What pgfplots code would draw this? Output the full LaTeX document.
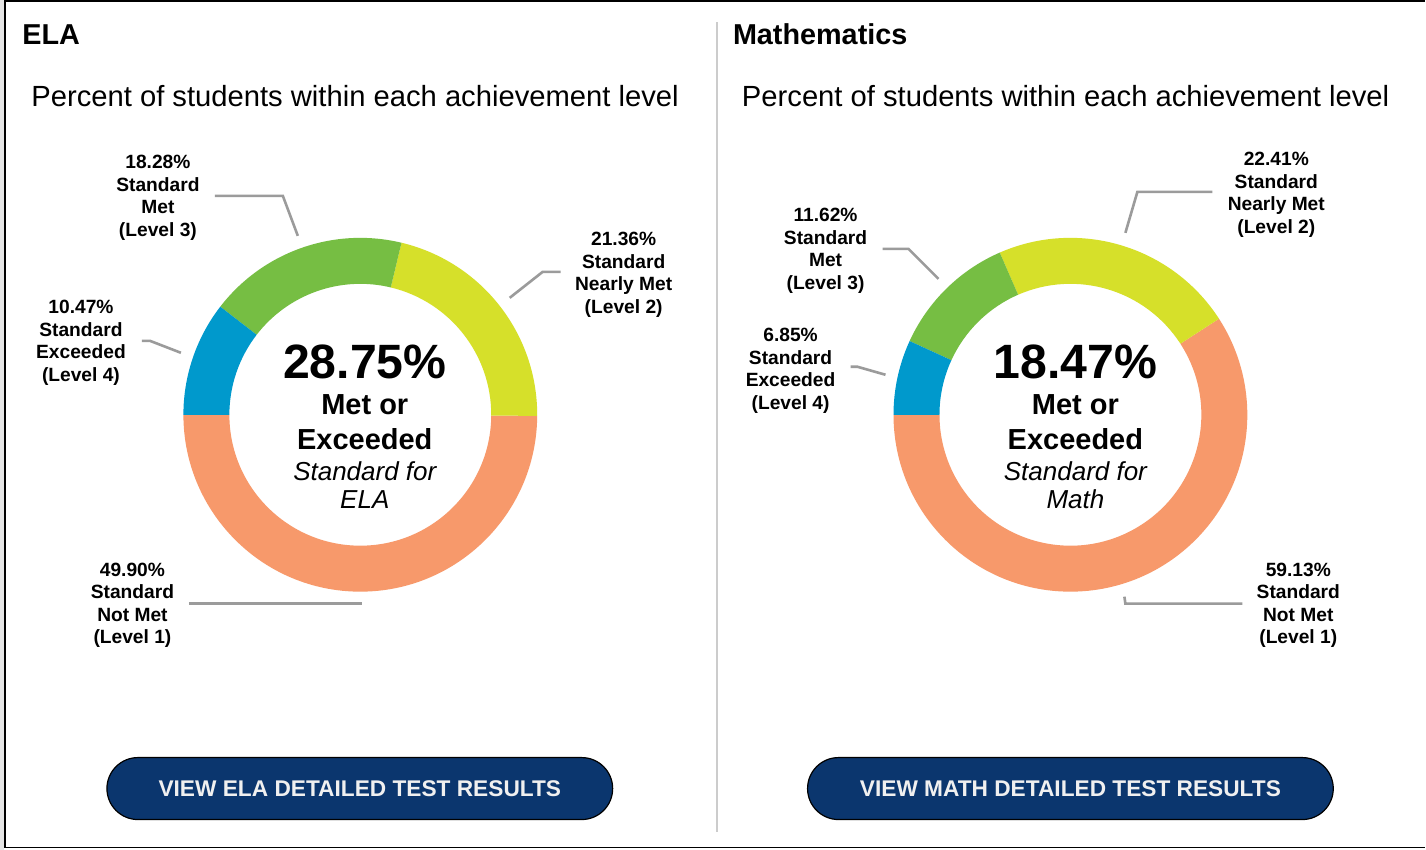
\documentclass[border=0pt]{standalone}
\usepackage{fontspec}
\setmainfont{Liberation Sans}
\usepackage{pgfplots}
\pgfplotsset{compat=1.18}
\usetikzlibrary{calc}
\definecolor{lvlone}{HTML}{F7996B}
\definecolor{lvltwo}{HTML}{D6E02A}
\definecolor{lvlthree}{HTML}{76BE43}
\definecolor{lvlfour}{HTML}{0099CC}
\definecolor{navy}{HTML}{0B366E}
\definecolor{leader}{HTML}{9B9B9B}
\definecolor{sep}{HTML}{CCCCCC}

% one ring segment: centre x, centre y, cumulative percent before, percent, colour
\newcommand{\ringseg}[5]{%
  \fill[#5] ($(axis cs:#1,#2)+({180+3.6*#3}:88.5pt)$)
    arc[start angle={180+3.6*#3}, end angle={180+3.6*(#3+#4)}, radius=88.5pt]
    -- ($(axis cs:#1,#2)+({180+3.6*(#3+#4)}:65.5pt)$)
    arc[start angle={180+3.6*(#3+#4)}, end angle={180+3.6*#3}, radius=65.5pt]
    -- cycle;}

\tikzset{lbl/.style={anchor=north, align=center, inner sep=0pt,
    font=\fontsize{9.6}{11.25}\selectfont\bfseries},
  lead/.style={leader, line width=1.3pt}}

\begin{document}
\begin{tikzpicture}
\begin{axis}[
  x=0.5pt, y=0.5pt, xmin=0, xmax=1426, ymin=0, ymax=850,
  hide axis, scale only axis, clip=false,
]
\fill[white] (axis cs:0,0) rectangle (axis cs:1426,850);
\fill[black!10] (axis cs:0,0) rectangle (axis cs:4,850);
\draw[black, line width=0.8pt] (axis cs:5,2) -- (axis cs:5,849) -- (axis cs:1426,849);
\draw[black, line width=0.8pt] (axis cs:5,2) -- (axis cs:1426,2);
\draw[sep, line width=1pt] (axis cs:717,18) -- (axis cs:717,828);

% titles
\node[anchor=base west, inner sep=0pt, font=\fontsize{14.4}{17}\selectfont\bfseries] at (axis cs:22,805) {ELA};
\node[anchor=base west, inner sep=0pt, font=\fontsize{14.4}{17}\selectfont\bfseries] at (axis cs:733,805) {Mathematics};
\node[anchor=base west, inner sep=0pt, font=\fontsize{14.6}{17}\selectfont] at (axis cs:31,743) {Percent of students within each achievement level};
\node[anchor=base west, inner sep=0pt, font=\fontsize{14.6}{17}\selectfont] at (axis cs:742,743) {Percent of students within each achievement level};

% ELA ring: 49.90 / 21.36 / 18.28 / 10.47
\ringseg{360.5}{435}{0}{49.90}{lvlone}
\ringseg{360.5}{435}{49.90}{21.36}{lvltwo}
\ringseg{360.5}{435}{71.26}{18.28}{lvlthree}
\ringseg{360.5}{435}{89.54}{10.47}{lvlfour}

% Math ring: 59.13 / 22.41 / 11.62 / 6.85
\ringseg{1071}{435}{0}{59.13}{lvlone}
\ringseg{1071}{435}{59.13}{22.41}{lvltwo}
\ringseg{1071}{435}{81.54}{11.62}{lvlthree}
\ringseg{1071}{435}{93.16}{6.85}{lvlfour}

% centre texts
\node[anchor=base, inner sep=0pt, font=\fontsize{24.1}{28}\selectfont\bfseries] at (axis cs:365,471) {28.75\%};
\node[anchor=base, inner sep=0pt, font=\fontsize{14.5}{17}\selectfont\bfseries] at (axis cs:365,435) {Met or};
\node[anchor=base, inner sep=0pt, font=\fontsize{14.5}{17}\selectfont\bfseries] at (axis cs:365,400) {Exceeded};
\node[anchor=base, inner sep=0pt, font=\fontsize{13}{15}\selectfont\itshape] at (axis cs:365,369) {Standard for};
\node[anchor=base, inner sep=0pt, font=\fontsize{13}{15}\selectfont\itshape] at (axis cs:365,341) {ELA};
\node[anchor=base, inner sep=0pt, font=\fontsize{24.1}{28}\selectfont\bfseries] at (axis cs:1076,471) {18.47\%};
\node[anchor=base, inner sep=0pt, font=\fontsize{14.5}{17}\selectfont\bfseries] at (axis cs:1076,435) {Met or};
\node[anchor=base, inner sep=0pt, font=\fontsize{14.5}{17}\selectfont\bfseries] at (axis cs:1076,400) {Exceeded};
\node[anchor=base, inner sep=0pt, font=\fontsize{13}{15}\selectfont\itshape] at (axis cs:1076,369) {Standard for};
\node[anchor=base, inner sep=0pt, font=\fontsize{13}{15}\selectfont\itshape] at (axis cs:1076,341) {Math};

% leader lines
\draw[lead] (axis cs:215,654) -- (axis cs:283,654) -- (axis cs:298,614);
\draw[lead] (axis cs:510,552) -- (axis cs:543,578) -- (axis cs:561,578);
\draw[lead] (axis cs:142,509) -- (axis cs:150,509) -- (axis cs:181,497);
\draw[lead] (axis cs:189,246) -- (axis cs:362,246);
\draw[lead] (axis cs:883,601) -- (axis cs:909,601) -- (axis cs:939,571);
\draw[lead] (axis cs:851,483) -- (axis cs:858,483) -- (axis cs:886,475);
\draw[lead] (axis cs:1126,617) -- (axis cs:1138,658) -- (axis cs:1213,658);
\draw[lead] (axis cs:1125,253) -- (axis cs:1126,246) -- (axis cs:1243,246);

% segment labels
\node[lbl] at (axis cs:158,695) {18.28\%\\Standard\\Met\\(Level 3)};
\node[lbl] at (axis cs:624,618) {21.36\%\\Standard\\Nearly Met\\(Level 2)};
\node[lbl] at (axis cs:81,550) {10.47\%\\Standard\\Exceeded\\(Level 4)};
\node[lbl] at (axis cs:132.5,287) {49.90\%\\Standard\\Not Met\\(Level 1)};
\node[lbl] at (axis cs:826,642) {11.62\%\\Standard\\Met\\(Level 3)};
\node[lbl] at (axis cs:791,522) {6.85\%\\Standard\\Exceeded\\(Level 4)};
\node[lbl] at (axis cs:1277,698) {22.41\%\\Standard\\Nearly Met\\(Level 2)};
\node[lbl] at (axis cs:1299,287) {59.13\%\\Standard\\Not Met\\(Level 1)};

% buttons
\filldraw[fill=navy, draw=black, line width=0.6pt, rounded corners=15.5pt] (axis cs:107,30) rectangle (axis cs:613,92);
\filldraw[fill=navy, draw=black, line width=0.6pt, rounded corners=15.5pt] (axis cs:808,30) rectangle (axis cs:1334,92);
\node[anchor=center, inner sep=0pt, text=black!6, font=\fontsize{11.35}{13}\selectfont\bfseries] at (axis cs:360,61) {VIEW ELA DETAILED TEST RESULTS};
\node[anchor=center, inner sep=0pt, text=black!6, font=\fontsize{11.35}{13}\selectfont\bfseries] at (axis cs:1071,61) {VIEW MATH DETAILED TEST RESULTS};
\end{axis}
\end{tikzpicture}
\end{document}
